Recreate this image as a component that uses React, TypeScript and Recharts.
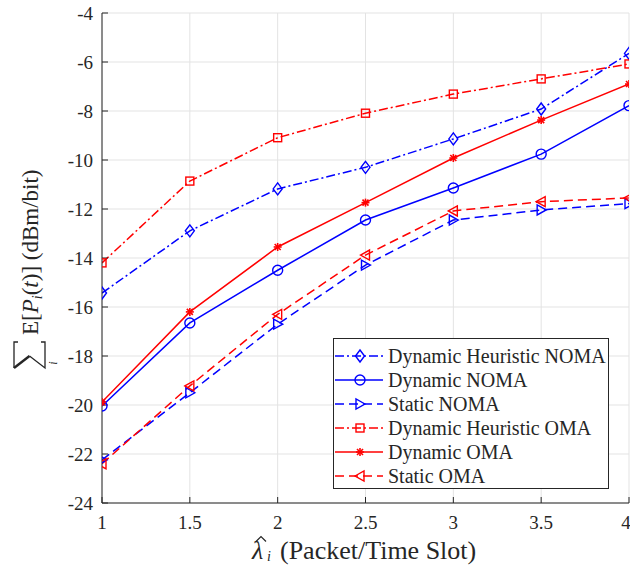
import React from 'react';
import { LineChart, Line, XAxis, YAxis, CartesianGrid, Legend } from 'recharts';

const lambdas = [1, 1.5, 2, 2.5, 3, 3.5, 4];
const dynHeurNoma = [-15.43, -12.89, -11.18, -10.3, -9.14, -7.92, -5.65];
const dynNoma = [-20.04, -16.65, -14.5, -12.45, -11.14, -9.76, -7.78];
const staticNoma = [-22.24, -19.5, -16.7, -14.29, -12.45, -12.04, -11.78];
const dynHeurOma = [-14.2, -10.86, -9.09, -8.09, -7.31, -6.69, -6.08];
const dynOma = [-19.88, -16.2, -13.55, -11.74, -9.92, -8.37, -6.9];
const staticOma = [-22.4, -19.22, -16.3, -13.88, -12.08, -11.7, -11.55];

const xTicks = [1, 1.5, 2, 2.5, 3, 3.5, 4];
const yTicks = [-24, -22, -20, -18, -16, -14, -12, -10, -8, -6, -4];

const data = lambdas.map((l, i) => ({
  l,
  dhNoma: dynHeurNoma[i],
  dNoma: dynNoma[i],
  sNoma: staticNoma[i],
  dhOma: dynHeurOma[i],
  dOma: dynOma[i],
  sOma: staticOma[i],
}));

const BLUE = '#0000ff';
const RED = '#ff0000';
const AXIS = '#262626';
const FONT = "'Liberation Serif', 'Times New Roman', serif";
const serif = { fontFamily: FONT };
const DASHDOT = '9 3 2 3';
const DASHED = '9 5';

type Shape = 'diamond' | 'circle' | 'triR' | 'square' | 'star' | 'triL';

const series: { key: string; name: string; color: string; dash?: string; shape: Shape }[] = [
  { key: 'dhNoma', name: 'Dynamic Heuristic NOMA', color: BLUE, dash: DASHDOT, shape: 'diamond' },
  { key: 'dNoma', name: 'Dynamic NOMA', color: BLUE, shape: 'circle' },
  { key: 'sNoma', name: 'Static NOMA', color: BLUE, dash: DASHED, shape: 'triR' },
  { key: 'dhOma', name: 'Dynamic Heuristic OMA', color: RED, dash: DASHDOT, shape: 'square' },
  { key: 'dOma', name: 'Dynamic OMA', color: RED, shape: 'star' },
  { key: 'sOma', name: 'Static OMA', color: RED, dash: DASHED, shape: 'triL' },
];

const Marker = ({ shape, cx, cy, color }: { shape: Shape; cx: number; cy: number; color: string }) => {
  const common = { fill: 'none', stroke: color, strokeWidth: 1.4 };
  switch (shape) {
    case 'diamond':
      return <polygon {...common} points={`${cx},${cy - 6} ${cx + 4.5},${cy} ${cx},${cy + 6} ${cx - 4.5},${cy}`} />;
    case 'circle':
      return <circle {...common} cx={cx} cy={cy} r={5} />;
    case 'triR':
      return <polygon {...common} points={`${cx + 5},${cy} ${cx - 4},${cy - 5} ${cx - 4},${cy + 5}`} />;
    case 'triL':
      return <polygon {...common} points={`${cx - 5},${cy} ${cx + 4},${cy - 5} ${cx + 4},${cy + 5}`} />;
    case 'square':
      return <rect {...common} x={cx - 4} y={cy - 4} width={8} height={8} />;
    case 'star':
      return (
        <g stroke={color} strokeWidth={1.6}>
          <line x1={cx - 4} y1={cy} x2={cx + 4} y2={cy} />
          <line x1={cx} y1={cy - 4} x2={cx} y2={cy + 4} />
          <line x1={cx - 3} y1={cy - 3} x2={cx + 3} y2={cy + 3} />
          <line x1={cx - 3} y1={cy + 3} x2={cx + 3} y2={cy - 3} />
        </g>
      );
  }
  return null;
};

const dotFor = (shape: Shape, color: string) => (p: any) => (
  <Marker key={`${shape}-${p.index}`} shape={shape} cx={p.cx} cy={p.cy} color={color} />
);

const LegendBox = () => (
  <div
    style={{
      background: '#fff',
      border: `1px solid ${AXIS}`,
      width: 276,
      height: 151,
      paddingTop: 5,
      boxSizing: 'border-box',
      fontFamily: FONT,
      fontSize: 20,
      color: AXIS,
    }}
  >
    {series.map((s) => (
      <div key={s.key} style={{ display: 'flex', alignItems: 'center', height: 24, whiteSpace: 'nowrap' }}>
        <svg width={54} height={24} style={{ flex: 'none' }}>
          <line x1={1} y1={12} x2={49} y2={12} stroke={s.color} strokeWidth={1.5} strokeDasharray={s.dash} />
          <Marker shape={s.shape} cx={26} cy={12} color={s.color} />
        </svg>
        <span>{s.name}</span>
      </div>
    ))}
  </div>
);

// y label in a rotated frame: x runs up the page from y=370, baseline at page x=38
const YLabel = () => (
  <g transform="translate(38,370) rotate(-90)" fill={AXIS} style={serif}>
    <g fill="none" stroke={AXIS} strokeLinejoin="miter">
      <path d="M28,-20 L28,-24 L2,-24" strokeWidth={1.3} />
      <path d="M2,-24 L14,-8.5" strokeWidth={2.4} />
      <path d="M14,-8.5 L2,7 L28,7 L28,3" strokeWidth={1.3} />
    </g>
    <text x={7} y={19} fontSize={12} fontStyle="italic" textAnchor="middle" style={serif}>i</text>
    <text x={35} y={0} fontSize={23} style={serif}>
      <tspan>E[</tspan>
      <tspan fontStyle="italic">P</tspan>
      <tspan fontSize={14} fontStyle="italic" dy={4}>i</tspan>
      <tspan dy={-4}>(</tspan>
      <tspan fontStyle="italic">t</tspan>
      <tspan>)] (dBm/bit)</tspan>
    </text>
  </g>
);

const XLabel = () => (
  <g fill={AXIS} style={serif}>
    <text x={252} y={559} fontSize={26} fontStyle="italic" style={serif}>λ</text>
    <path d="M256,541.5 L261,536.5 L266,541.5" fill="none" stroke={AXIS} strokeWidth={1.2} />
    <text x={267} y={561} fontSize={14} fontStyle="italic" style={serif}>i</text>
    <text x={280} y={559} fontSize={26} style={serif}>(Packet/Time Slot)</text>
  </g>
);

const renderXTick = (p: any) => (
  <text
    key={`xt-${p.index}`}
    x={p.x}
    y={p.y + 12}
    textAnchor="middle"
    fontFamily="Liberation Serif"
    fontSize={19}
    fill={AXIS}
    style={serif}
  >
    {p.payload.value}
  </text>
);

const renderYTick = (p: any) => (
  <text
    key={`yt-${p.index}`}
    x={p.x}
    y={p.y + 6.5}
    textAnchor="end"
    fontFamily="Liberation Serif"
    fontSize={19}
    fill={AXIS}
    style={serif}
  >
    {p.payload.value}
  </text>
);

export default function App() {
  return (
    <div style={{ position: 'absolute', left: 0, top: 0, width: 630, height: 565, background: '#fff' }}>
      <LineChart
        width={630}
        height={565}
        data={data}
        margin={{ top: 13, right: 1, bottom: 32, left: 42 }}
        style={serif}
      >
        <CartesianGrid stroke="#e3e3e3" strokeWidth={1} />
        <XAxis
          xAxisId="bottom"
          dataKey="l"
          type="number"
          domain={[1, 4]}
          ticks={xTicks}
          height={30}
          stroke={AXIS}
          tickSize={-6}
          tickMargin={20}
          tick={renderXTick}
          allowDataOverflow
        />
        <XAxis
          xAxisId="top"
          orientation="top"
          dataKey="l"
          type="number"
          domain={[1, 4]}
          ticks={xTicks}
          height={0}
          stroke={AXIS}
          tickSize={-6}
          tickFormatter={() => ''}
        />
        <YAxis
          type="number"
          domain={[-24, -4]}
          ticks={yTicks}
          width={60}
          stroke={AXIS}
          tickSize={-6}
          tickMargin={15}
          tick={renderYTick}
          allowDataOverflow
          label={{ content: () => <YLabel /> }}
        />
        {series.map((s) => (
          <Line
            key={s.key}
            xAxisId="bottom"
            dataKey={s.key}
            name={s.name}
            type="linear"
            stroke={s.color}
            strokeWidth={1.5}
            strokeDasharray={s.dash}
            dot={dotFor(s.shape, s.color)}
            isAnimationActive={false}
          />
        ))}
        <Legend
          layout="vertical"
          align="center"
          verticalAlign="middle"
          content={() => <LegendBox />}
          wrapperStyle={{ left: 333, top: 338, width: 276, height: 151 }}
        />
        <XLabel />
      </LineChart>
    </div>
  );
}
